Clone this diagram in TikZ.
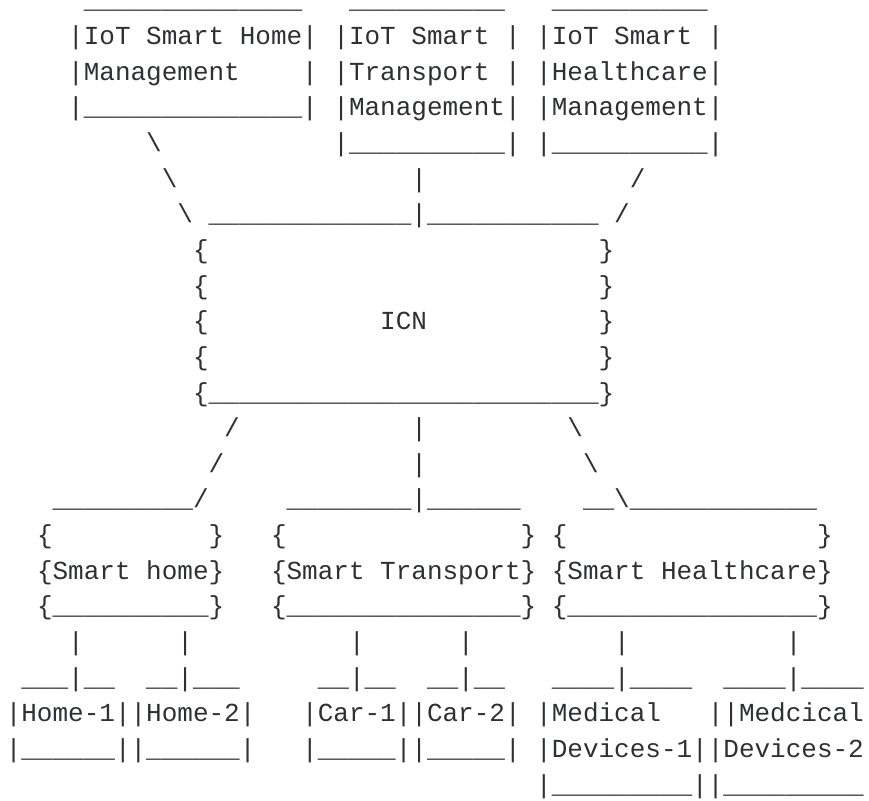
\documentclass[tikz,border=0pt]{standalone}
\usepackage{fontspec}
\setmonofont{Liberation Mono}
\definecolor{ink}{HTML}{2E3032}
\tikzset{asciitext/.style={anchor=base west,inner sep=0pt,outer sep=0pt,text=ink,font=\fontsize{26}{26}\selectfont\ttfamily}}
\newcommand\tx[3]{\node[asciitext] (r#2c#1) at ({#1*15.6+5.8},{#2*35.64+9.0}) {#3};}
\newcommand\bs{\textbackslash}
\begin{document}
\catcode`\_=12
\begin{tikzpicture}[x=1pt,y=-1pt]
\useasboundingbox[fill=white] (0,0) rectangle (869,800);
% row 0
\tx{5}{0}{______________}
\tx{22}{0}{__________}
\tx{35}{0}{__________}
% management boxes
\tx{4}{1}{|IoT Smart Home|}
\tx{21}{1}{|IoT Smart |}
\tx{34}{1}{|IoT Smart |}
\tx{4}{2}{|Management\ \ \ \ |}
\tx{21}{2}{|Transport |}
\tx{34}{2}{|Healthcare|}
\tx{4}{3}{|______________|}
\tx{21}{3}{|Management|}
\tx{34}{3}{|Management|}
\tx{9}{4}{\bs}
\tx{21}{4}{|__________|}
\tx{34}{4}{|__________|}
\tx{10}{5}{\bs}
\tx{26}{5}{|}
\tx{40}{5}{/}
\tx{11}{6}{\bs}
\tx{13}{6}{_____________|___________}
\tx{39}{6}{/}
% ICN
\tx{12}{7}{\{}
\tx{38}{7}{\}}
\tx{12}{8}{\{}
\tx{38}{8}{\}}
\tx{12}{9}{\{}
\tx{24}{9}{ICN}
\tx{38}{9}{\}}
\tx{12}{10}{\{}
\tx{38}{10}{\}}
\tx{12}{11}{\{_________________________\}}
\tx{14}{12}{/}
\tx{26}{12}{|}
\tx{36}{12}{\bs}
\tx{13}{13}{/}
\tx{26}{13}{|}
\tx{37}{13}{\bs}
\tx{3}{14}{_________/}
\tx{18}{14}{________|______}
\tx{37}{14}{__\bs____________}
% domains
\tx{2}{15}{\{}
\tx{13}{15}{\}}
\tx{17}{15}{\{}
\tx{33}{15}{\}}
\tx{35}{15}{\{}
\tx{52}{15}{\}}
\tx{2}{16}{\{Smart home\}}
\tx{17}{16}{\{Smart Transport\}}
\tx{35}{16}{\{Smart Healthcare\}}
\tx{2}{17}{\{__________\}}
\tx{17}{17}{\{_______________\}}
\tx{35}{17}{\{________________\}}
\tx{4}{18}{|}
\tx{11}{18}{|}
\tx{22}{18}{|}
\tx{29}{18}{|}
\tx{39}{18}{|}
\tx{50}{18}{|}
\tx{1}{19}{___|__}
\tx{9}{19}{__|___}
\tx{20}{19}{__|__}
\tx{27}{19}{__|__}
\tx{35}{19}{____|____}
\tx{46}{19}{____|____}
\tx{0}{20}{|Home-1||Home-2|}
\tx{19}{20}{|Car-1||Car-2|}
\tx{34}{20}{|Medical\ \ \ ||Medcical}
\tx{0}{21}{|______||______|}
\tx{19}{21}{|_____||_____|}
\tx{34}{21}{|Devices-1||Devices-2}
\tx{34}{22}{|_________||_________}
\end{tikzpicture}
\end{document}
